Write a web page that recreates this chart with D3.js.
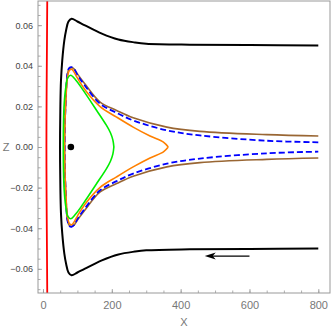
<!DOCTYPE html>
<html>
<head>
<meta charset="utf-8">
<script src="https://cdn.jsdelivr.net/npm/d3@7"></script>
<style>
  body { margin: 0; background: #fff; }
  svg { display: block; font-family: "Liberation Sans", Arial, sans-serif; }
</style>
</head>
<body>
<div id="chart"></div>
<script>
// upper halves [x, z]; lower halves are the mirror image (the figure is symmetric in z)
const RED_LINE = [[12.5, 0.075], [11.5, 0.05], [10.5, 0.025], [10, 0], [10.5, -0.025], [11.5, -0.05], [12.5, -0.075]];
const BLACK_UPPER = [[800, 0.0500], [600, 0.0502], [427, 0.0504], [300, 0.0509], [267, 0.0515], [219, 0.0529],
  [171, 0.0558], [122, 0.0599], [100, 0.0618], [83, 0.0632], [74, 0.0618], [67, 0.0574], [62, 0.0525],
  [56, 0.0427], [52.3, 0.0328], [50.5, 0.02], [49.5, 0]];
const BROWN_UPPER = [[800, 0.0054], [650, 0.0061], [456, 0.0077], [360, 0.0098], [262, 0.0144], [214, 0.0180],
  [166, 0.0221], [122, 0.0310], [100, 0.0360], [90, 0.0385], [83, 0.0391], [76, 0.0385], [71, 0.0360],
  [68, 0.0300], [65.5, 0.0200], [63.5, 0.0100], [63, 0]];
const BLUE_UPPER = [[800, 0.0023], [650, 0.0031], [456, 0.0057], [360, 0.0082], [262, 0.0131], [214, 0.0168],
  [166, 0.0213], [122, 0.0302], [100, 0.0355], [90, 0.0385], [83, 0.0393], [76, 0.0388], [71, 0.0360],
  [68, 0.0300], [65.5, 0.0200], [63.5, 0.0100], [63, 0]];
const ORANGE_UPPER = [[364, 0], [350, 0.0024], [311, 0.0054], [262, 0.0098], [214, 0.0147], [166, 0.0199],
  [122, 0.0282], [100, 0.0340], [90, 0.0370], [83, 0.0383], [76, 0.0375], [71, 0.0340], [68, 0.0280],
  [65.5, 0.0200], [63.5, 0.0100], [62.5, 0]];
const GREEN_UPPER = [[206, 0], [203, 0.0035], [196, 0.0070], [185, 0.0105], [156, 0.0180], [117, 0.0279],
  [95, 0.0330], [80.5, 0.0353], [72, 0.0340], [66, 0.0290], [61.5, 0.0210], [59.5, 0.0110], [59, 0]];
const DOT = [81, 0];
const ARROW = [[600, -0.0537], [470, -0.0537]];
const X_TICKS = [0, 200, 400, 600, 800];
const Z_TICKS = [-0.06, -0.04, -0.02, 0, 0.02, 0.04, 0.06];

function mirrored(upper) {
  // upper half followed by its mirror image below z = 0
  const lower = upper.slice(0, -1).reverse().map(d => [d[0], -d[1]]);
  return upper.concat(lower);
}

const W = 332, H = 331;
const plot = {left: 38, right: 330, top: 1, bottom: 293};

const svg = d3.select("#chart").append("svg")
  .attr("width", W)
  .attr("height", H);

const x = d3.scaleLinear().domain([-14.5, 834]).range([plot.left, plot.right]);
const y = d3.scaleLinear().domain([-0.0719, 0.0719]).range([plot.bottom, plot.top]);

svg.append("clipPath").attr("id", "clip")
  .append("rect")
  .attr("x", plot.left).attr("y", plot.top)
  .attr("width", plot.right - plot.left).attr("height", plot.bottom - plot.top);

// frame ticks, pointing inwards
const gx = svg.append("g").attr("transform", "translate(0," + plot.bottom + ")");
gx.call(d3.axisBottom(x).tickValues(d3.range(0, 801, 50)).tickSize(-2.5).tickFormat(""));
gx.append("g").call(d3.axisBottom(x).tickValues(X_TICKS).tickSize(-4).tickPadding(8).tickFormat(d3.format("d")));

const gy = svg.append("g").attr("transform", "translate(" + plot.left + ",0)");
gy.call(d3.axisLeft(y).tickValues(d3.range(-0.07, 0.0701, 0.005)).tickSize(-2.5).tickFormat(""));
gy.append("g").call(d3.axisLeft(y).tickValues(Z_TICKS).tickSize(-4).tickPadding(5)
  .tickFormat(d => d3.format(".2f")(d).replace("-", "\u2212")));

svg.selectAll(".domain").remove();
svg.selectAll(".tick line").attr("stroke", "#999").attr("stroke-width", 0.8);
gx.selectAll(".tick text").attr("fill", "#777").style("font-size", "11px");
gy.selectAll(".tick text").attr("fill", "#444").style("font-size", "9px");

const line = d3.line()
  .x(d => x(d[0]))
  .y(d => y(d[1]))
  .curve(d3.curveCatmullRom.alpha(0.5));

const g = svg.append("g").attr("clip-path", "url(#clip)");

g.append("path").attr("d", line(RED_LINE))
  .attr("fill", "none").attr("stroke", "#ff0000").attr("stroke-width", 1.8);
g.append("path").attr("d", line(mirrored(BLACK_UPPER)))
  .attr("fill", "none").attr("stroke", "#000").attr("stroke-width", 2);
g.append("path").attr("d", line(mirrored(BROWN_UPPER)))
  .attr("fill", "none").attr("stroke", "#996633").attr("stroke-width", 1.6);
g.append("path").attr("d", line(mirrored(BLUE_UPPER)))
  .attr("fill", "none").attr("stroke", "#0000ff").attr("stroke-width", 1.8)
  .attr("stroke-dasharray", "6,3");
g.append("path").attr("d", line(mirrored(ORANGE_UPPER)))
  .attr("fill", "none").attr("stroke", "#ff8000").attr("stroke-width", 1.6);
g.append("path").attr("d", line(mirrored(GREEN_UPPER)))
  .attr("fill", "none").attr("stroke", "#00ee00").attr("stroke-width", 1.6);

g.append("circle")
  .attr("cx", x(DOT[0])).attr("cy", y(DOT[1])).attr("r", 3.3)
  .attr("fill", "#000");

// arrow pointing left
g.append("line")
  .attr("x1", x(ARROW[0][0])).attr("y1", y(ARROW[0][1]))
  .attr("x2", x(ARROW[1][0]) + 4).attr("y2", y(ARROW[1][1]))
  .attr("stroke", "#000").attr("stroke-width", 1.3);
g.append("path")
  .attr("d", "M" + x(ARROW[1][0]) + "," + y(ARROW[1][1]) + " l11,-3.5 l-3,3.5 l3,3.5 Z")
  .attr("fill", "#000");

// frame
svg.append("rect")
  .attr("x", plot.left).attr("y", plot.top)
  .attr("width", plot.right - plot.left).attr("height", plot.bottom - plot.top)
  .attr("fill", "none").attr("stroke", "#999").attr("stroke-width", 1);

svg.append("text")
  .attr("x", (plot.left + plot.right) / 2).attr("y", 326)
  .attr("text-anchor", "middle").attr("fill", "#777")
  .style("font-size", "11px").text("X");
svg.append("text")
  .attr("x", 6).attr("y", y(0) + 4)
  .attr("text-anchor", "middle").attr("fill", "#777")
  .style("font-size", "11px").text("Z");
</script>
</body>
</html>
